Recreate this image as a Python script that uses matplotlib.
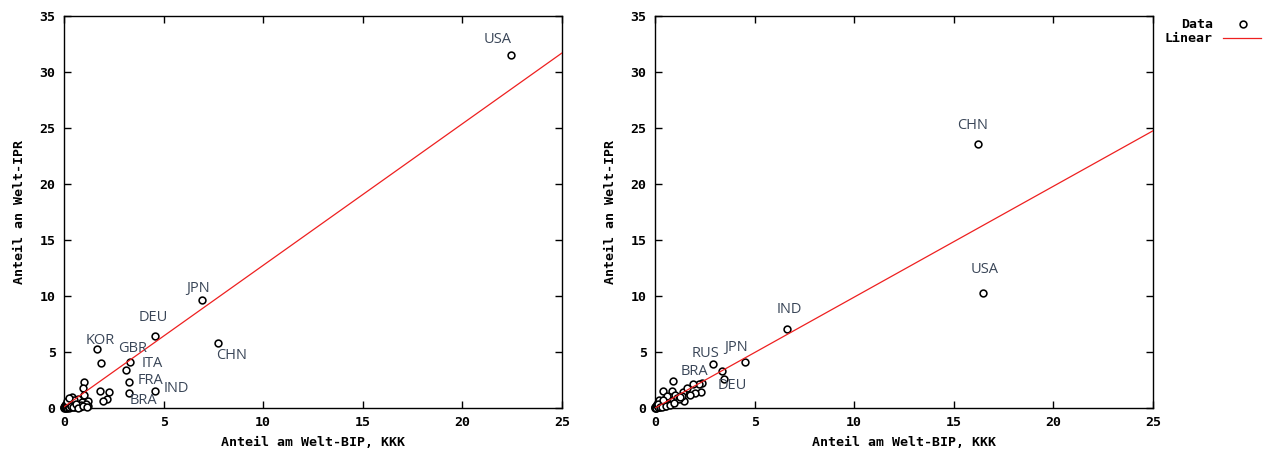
import matplotlib
matplotlib.use("Agg")
import matplotlib.pyplot as plt
from matplotlib.lines import Line2D
import numpy as np

# ---------------- data ----------------
# Left panel: share of world GDP (PPP) vs share of world IPR
left_x = [22.42, 6.93, 7.75, 4.57, 1.66, 3.30, 3.10, 3.28, 4.58, 3.25,
          1.86, 1.02, 0.97, 1.81, 2.26, 2.14, 1.97, 1.22, 1.22,
          0.05, 0.10, 0.15, 0.20, 0.25, 0.30, 0.35, 0.40, 0.45, 0.50,
          0.55, 0.60, 0.65, 0.70, 0.75, 0.80, 0.90, 1.00, 0.08, 0.12,
          0.18, 0.28, 0.38, 0.48, 0.58, 0.68, 0.02, 0.03, 0.06, 0.22,
          0.33, 0.85, 1.10, 0.42, 0.52, 0.00, 0.01, 0.04, 0.07, 0.09,
          0.11, 0.14, 0.16, 0.19, 0.23, 0.26, 0.31, 0.36, 0.44, 0.62,
          0.72, 0.95, 1.15, 0.13, 0.27]
left_y = [31.55, 9.64, 5.83, 6.40, 5.27, 4.10, 3.40, 2.30, 1.50, 1.34,
          4.00, 2.30, 1.80, 1.50, 1.40, 0.80, 0.60, 0.60, 0.20,
          0.05, 0.10, 0.20, 0.15, 0.30, 0.25, 0.40, 0.35, 0.50, 0.30,
          0.60, 0.20, 0.45, 0.80, 0.30, 0.10, 0.50, 1.20, 0.35, 0.02,
          0.45, 0.55, 0.70, 0.05, 0.10, 0.15, 0.10, 0.25, 0.00, 0.65,
          0.05, 0.25, 0.40, 1.00, 0.75, 0.00, 0.05, 0.15, 0.08, 0.30,
          0.12, 0.00, 0.28, 0.38, 0.02, 0.12, 0.40, 0.18, 0.05, 0.32,
          0.02, 0.15, 0.10, 0.60, 0.85]
left_names = {0: "USA", 1: "JPN", 2: "CHN", 3: "DEU", 4: "KOR", 5: "GBR",
              6: "ITA", 7: "FRA", 8: "IND", 9: "BRA"}
left_slope, left_intercept = 1.264, 0.1

# Right panel
right_x = [16.23, 16.45, 6.63, 4.52, 2.90, 3.36, 3.48, 2.34, 2.22, 1.92,
           0.92, 2.29, 2.00, 1.42, 1.46, 0.38, 0.84, 1.34,
           0.05, 0.10, 0.15, 0.20, 0.25, 0.30, 0.35, 0.40, 0.45, 0.50,
           0.55, 0.60, 0.65, 0.70, 0.80, 0.90, 1.00, 1.10, 1.20, 0.08,
           0.12, 0.18, 0.28, 0.38, 0.48, 0.58, 0.68, 0.02, 0.03, 1.60,
           1.75, 0.22, 0.00, 0.01, 0.04, 0.07, 0.11, 0.14, 0.17, 0.24,
           0.33, 0.42, 0.53, 0.75, 0.95, 1.25]
right_y = [23.57, 10.24, 7.05, 4.10, 3.90, 3.30, 2.60, 2.20, 2.10, 2.10,
           2.40, 1.46, 1.37, 1.40, 0.65, 1.50, 1.50, 1.10,
           0.05, 0.15, 0.10, 0.30, 0.20, 0.45, 0.30, 0.60, 0.35, 0.80,
           0.50, 0.40, 0.90, 0.60, 1.00, 0.70, 1.20, 0.90, 0.80, 0.25,
           0.40, 0.05, 0.15, 0.55, 0.20, 1.10, 0.35, 0.10, 0.00, 1.80,
           1.20, 0.70, 0.00, 0.08, 0.20, 0.02, 0.28, 0.12, 0.38, 0.05,
           0.10, 0.70, 0.15, 0.30, 0.45, 1.00]
right_names = {0: "CHN", 1: "USA", 2: "IND", 3: "JPN", 4: "RUS", 6: "DEU", 7: "BRA"}
right_slope, right_intercept = 0.99, 0.0

x_ticks = [0, 5, 10, 15, 20, 25]
y_ticks = [0, 5, 10, 15, 20, 25, 30, 35]
x_label = "Anteil am Welt-BIP, KKK"
y_label = "Anteil an Welt-IPR"
legend_labels = ["Data", "Linear"]

# ---------------- style ----------------
left_offsets = {"USA": (-13, 15), "JPN": (-4, 12), "DEU": (-2, 19), "KOR": (3, 8),
                "GBR": (3, 14), "ITA": (26, 6), "FRA": (21, 2), "IND": (21, 3),
                "BRA": (15, -8), "CHN": (13, -13)}
right_offsets = {"CHN": (-6, 19), "USA": (2, 24), "IND": (2, 20), "RUS": (-7, 11),
                 "JPN": (-9, 15), "BRA": (-7, 12), "DEU": (8, -7)}

mono = {"family": "DejaVu Sans Mono", "weight": "bold", "size": 9.5}
label_color = "#3a4658"
W, H = 1264, 453

fig = plt.figure(figsize=(W / 100, H / 100), dpi=100)
axL = fig.add_axes([64 / W, 1 - 408 / H, 498 / W, 392 / H])
axR = fig.add_axes([655 / W, 1 - 408 / H, 498 / W, 392 / H])


def draw(ax, xs, ys, names, offsets, slope, intercept):
    ax.scatter(xs, ys, s=24, facecolors="white", edgecolors="black",
               linewidths=1.15, zorder=3, clip_on=False)
    lx = np.array([0.0, 25.0])
    ax.plot(lx, slope * lx + intercept, color="#ee2020", lw=0.9, zorder=4)
    for i, name in names.items():
        ax.annotate(name, (xs[i], ys[i]), xytext=offsets[name],
                    textcoords="offset pixels", ha="center", va="center",
                    fontsize=10.5, family="Open Sans", color=label_color, zorder=5)
    ax.set_xlim(0, 25)
    ax.set_ylim(0, 35)
    ax.set_xticks(x_ticks)
    ax.set_yticks(y_ticks)
    ax.set_xticklabels([str(t) for t in x_ticks], fontdict=mono)
    ax.set_yticklabels([str(t) for t in y_ticks], fontdict=mono)
    ax.tick_params(direction="in", top=True, right=True, length=5, width=1,
                   pad=6, colors="black")
    ax.set_xlabel(x_label, fontdict=mono, labelpad=5)
    ax.set_ylabel(y_label, fontdict=mono, labelpad=10)
    for s in ax.spines.values():
        s.set_linewidth(1)
        s.set_color("black")


draw(axL, left_x, left_y, left_names, left_offsets, left_slope, left_intercept)
draw(axR, right_x, right_y, right_names, right_offsets, right_slope, right_intercept)

# legend (gnuplot style: text then sample), outside right
fig.text(1213 / W, 1 - 24 / H, legend_labels[0], ha="right", va="center", fontdict=mono)
fig.text(1213 / W, 1 - 38 / H, legend_labels[1], ha="right", va="center", fontdict=mono)
fig.add_artist(Line2D([1243 / W], [1 - 24 / H], marker="o", markersize=4.9,
                      markerfacecolor="white", markeredgecolor="black",
                      markeredgewidth=1.15, linestyle="none"))
fig.add_artist(Line2D([1223 / W, 1261 / W], [1 - 38 / H, 1 - 38 / H],
                      color="#ee2020", lw=0.9))

fig.savefig("out.png", dpi=100)
